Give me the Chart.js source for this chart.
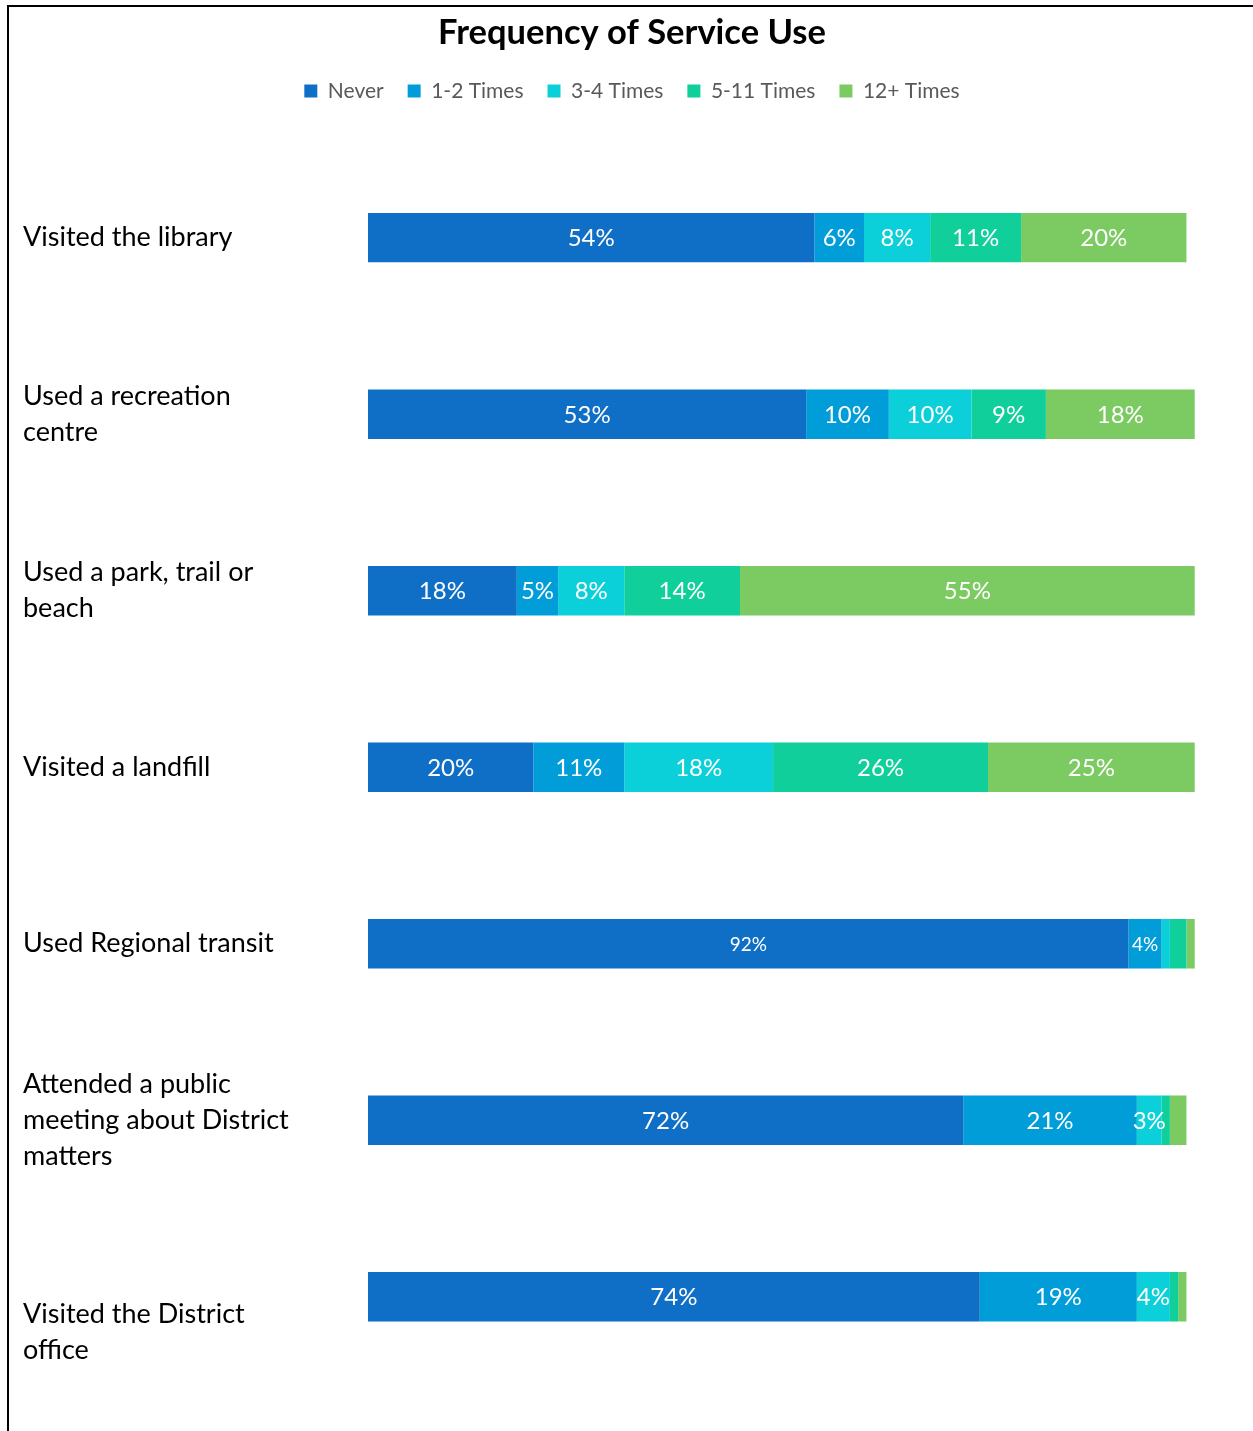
<!DOCTYPE html>
<html>
<head>
<meta charset="utf-8">
<title>Frequency of Service Use</title>
<script src="https://cdn.jsdelivr.net/npm/chart.js@4/dist/chart.umd.min.js"></script>
<style>
  html, body { margin: 0; padding: 0; background: #fff; }
  #frame {
    position: absolute;
    left: 7px;
    top: 5px;
    width: 1244px;
    height: 1424px;
    border-top: 2px solid #000;
    border-left: 2px solid #000;
  }
  #usageChart { display: block; }
</style>
</head>
<body>
<div id="frame">
  <canvas id="usageChart" width="1244" height="1424"></canvas>
</div>
<script>
  // survey rows, top to bottom
  const services = [
    "Visited the library",
    ["Used a recreation", "centre"],
    ["Used a park, trail or", "beach"],
    "Visited a landfill",
    "Used Regional transit",
    ["Attended a public", "meeting about District", "matters"],
    ["", "", "Visited the District", "office"]
  ];

  // percent of respondents per frequency band
  const never = [54, 53, 18, 20, 92, 72, 74];
  const times1to2 = [6, 10, 5, 11, 4, 21, 19];
  const times3to4 = [8, 10, 8, 18, 1, 3, 4];
  const times5to11 = [11, 9, 14, 26, 2, 1, 1];
  const times12plus = [20, 18, 55, 25, 1, 2, 1];

  const bandNames = ["Never", "1-2 Times", "3-4 Times", "5-11 Times", "12+ Times"];
  const bandColors = ["#0F6FC6", "#009DD9", "#0BD0D9", "#10CF9B", "#7CCA62"];

  // the transit row uses a smaller value font
  const labelSizes = [24, 24, 24, 24, 19, 24, 24];

  const FONT = "Lato, 'Open Sans', sans-serif";

  const valueLabels = {
    id: "valueLabels",
    afterDatasetsDraw(chart) {
      const ctx = chart.ctx;
      ctx.save();
      ctx.fillStyle = "#fff";
      ctx.textAlign = "center";
      ctx.textBaseline = "middle";
      chart.data.datasets.forEach((ds, di) => {
        const meta = chart.getDatasetMeta(di);
        meta.data.forEach((bar, i) => {
          const v = ds.data[i];
          if (v < 3) return;
          ctx.font = labelSizes[i] + "px " + FONT;
          const cx = (bar.x + bar.base) / 2;
          ctx.fillText(v + "%", cx, bar.y + 1);
        });
      });
      ctx.restore();
    }
  };

  // extra room between the legend and the first bar
  const legendGap = {
    id: "legendGap",
    beforeInit(chart) {
      const fit = chart.legend.fit;
      chart.legend.fit = function () {
        fit.bind(chart.legend)();
        this.height += 38;
      };
    }
  };

  const seriesValues = [never, times1to2, times3to4, times5to11, times12plus];

  new Chart(document.getElementById("usageChart"), {
    type: "bar",
    data: {
      labels: services,
      datasets: seriesValues.map((vals, k) => ({
        label: bandNames[k],
        data: vals,
        backgroundColor: bandColors[k],
        borderWidth: 0,
        categoryPercentage: 1,
        barPercentage: 0.28
      }))
    },
    options: {
      indexAxis: "y",
      responsive: false,
      animation: false,
      layout: { padding: { left: 14, right: 12, top: 0, bottom: 46 } },
      scales: {
        x: {
          stacked: true,
          min: 0,
          max: 105.6,
          display: false
        },
        y: {
          stacked: true,
          grid: { display: false },
          border: { display: false },
          afterFit(scale) { scale.width = 345; },
          ticks: {
            crossAlign: "far",
            color: "#000",
            font: { family: FONT, size: 27, lineHeight: 1.33 }
          }
        }
      },
      plugins: {
        title: {
          display: true,
          text: "Frequency of Service Use",
          color: "#000",
          font: { family: FONT, size: 34.5, weight: "bold" },
          padding: { top: 5, bottom: 3 }
        },
        legend: {
          position: "top",
          labels: {
            color: "#595959",
            font: { family: FONT, size: 21 },
            boxWidth: 13,
            boxHeight: 13,
            padding: 24
          }
        },
        tooltip: { enabled: false }
      }
    },
    plugins: [valueLabels, legendGap]
  });
</script>
</body>
</html>
